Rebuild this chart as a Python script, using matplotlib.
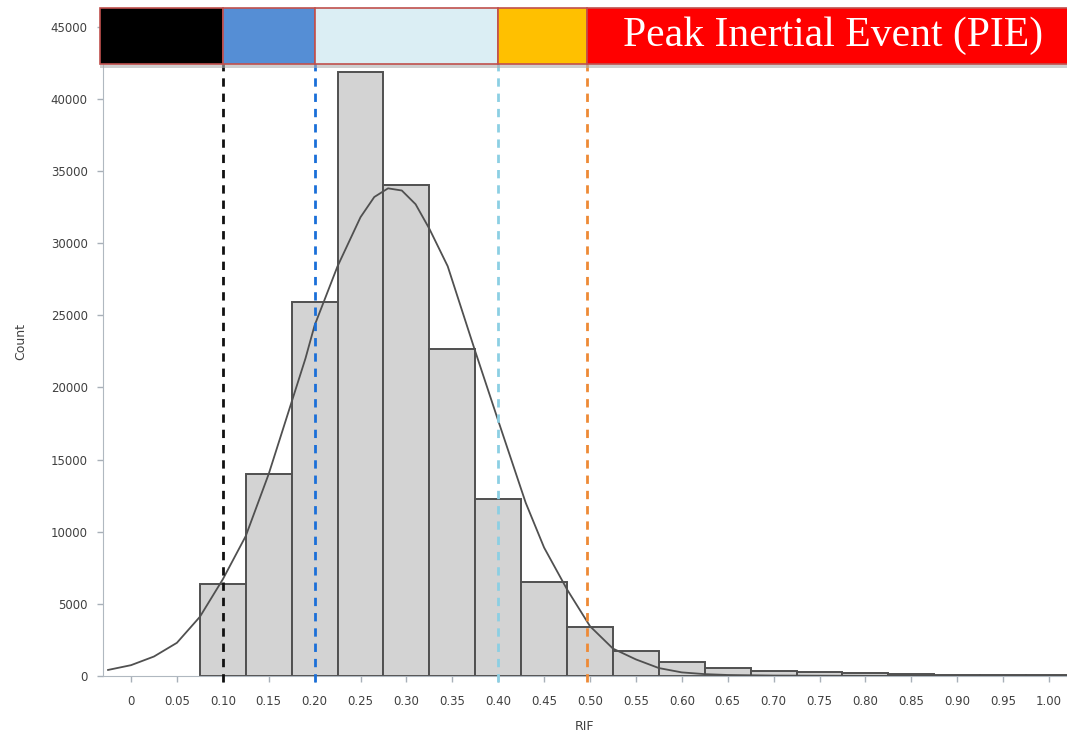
import numpy as np
import matplotlib.pyplot as plt
from matplotlib.patches import Rectangle

# histogram of RIF values (bin width 0.05)
bin_centers = [0.10, 0.15, 0.20, 0.25, 0.30, 0.35, 0.40, 0.45, 0.50, 0.55,
               0.60, 0.65, 0.70, 0.75, 0.80, 0.85, 0.90, 0.95, 1.00]
counts = [6400, 14000, 25900, 41850, 34050, 22650, 12280, 6520, 3380, 1700,
          950, 570, 370, 300, 240, 110, 90, 80, 70]
bin_width = 0.05

# fitted density curve
curve_x = [-0.025, 0.0, 0.025, 0.05, 0.075, 0.10, 0.125, 0.15, 0.175, 0.19,
           0.20, 0.225, 0.25, 0.265, 0.28, 0.295, 0.31, 0.325, 0.345, 0.375,
           0.40, 0.43, 0.45, 0.475, 0.50, 0.525, 0.55, 0.575, 0.60, 0.625,
           0.65, 0.70, 0.80, 1.03]
curve_y = [420, 750, 1350, 2300, 4100, 6700, 9700, 14000, 19000, 22000,
           24300, 28400, 31800, 33200, 33800, 33650, 32700, 31000, 28400, 22500,
           17700, 12000, 8900, 6000, 3450, 1900, 1150, 550, 250, 130,
           70, 30, 10, 0]

# zone thresholds and colours of the top band
thresholds = [0.10, 0.20, 0.40, 0.497]
line_colors = ['#111111', '#1a6fd8', '#8ccfe3', '#ee8a35']
zone_colors = ['#000000', '#558ed5', '#dbeef4', '#ffc000', '#ff0000']
zone_label = 'Peak Inertial Event (PIE)'

xticks = [i * 0.05 for i in range(21)]
xticklabels = ['0'] + ['%.2f' % t for t in xticks[1:]]
yticks = list(range(0, 45001, 5000))

fig = plt.figure(figsize=(10.67, 7.40), dpi=100)
ax = fig.add_axes([103 / 1067, 64 / 740, 964 / 1067, 668 / 740])

x0, x1 = -0.0305, 1.0196
ax.set_xlim(x0, x1)
ax.set_ylim(0, 46300)

ax.bar(bin_centers, counts, width=bin_width, color='#d3d3d3',
       edgecolor='#505050', linewidth=1.4, zorder=2)
ax.plot(curve_x, curve_y, color='#505050', linewidth=1.3, zorder=4)

for t, c in zip(thresholds, line_colors):
    ax.plot([t, t], [-450, 43000], color=c, linewidth=2, dashes=(3, 2.5),
            zorder=5, clip_on=False)

# coloured band at the top
band_lo, band_hi = 42450, 46300
edges = [x0 - 0.003] + thresholds + [x1 + 0.02]
ax.add_patch(Rectangle((x0 - 0.003, band_lo - 300), edges[-1] - x0, 300,
                       color='#b0b0b0', alpha=0.6, zorder=6, clip_on=False,
                       linewidth=0))
for i, c in enumerate(zone_colors):
    ax.add_patch(Rectangle((edges[i], band_lo), edges[i + 1] - edges[i],
                           band_hi - band_lo, facecolor=c, edgecolor='#c0504d',
                           linewidth=1.2, zorder=7, clip_on=False))
ax.text(0.765, (band_lo + band_hi) / 2, zone_label,
        color='white', fontsize=30, family='Liberation Serif',
        ha='center', va='center', zorder=8)

ax.set_xticks(xticks)
ax.set_xticklabels(xticklabels)
ax.set_yticks(yticks)
ax.tick_params(colors='#a8b0b8', labelcolor='#404040', labelsize=8.5,
               length=4, width=1, direction='out')
ax.tick_params(axis='x', pad=10)
ax.tick_params(axis='y', pad=7)
for side in ['top', 'right']:
    ax.spines[side].set_visible(False)
for side in ['left', 'bottom']:
    ax.spines[side].set_color('#b0b8c0')
ax.set_xlabel('RIF', fontsize=9, color='#404040', labelpad=8)
ax.set_ylabel('Count', fontsize=9, color='#404040', labelpad=17)

fig.savefig('out.png', dpi=100)
